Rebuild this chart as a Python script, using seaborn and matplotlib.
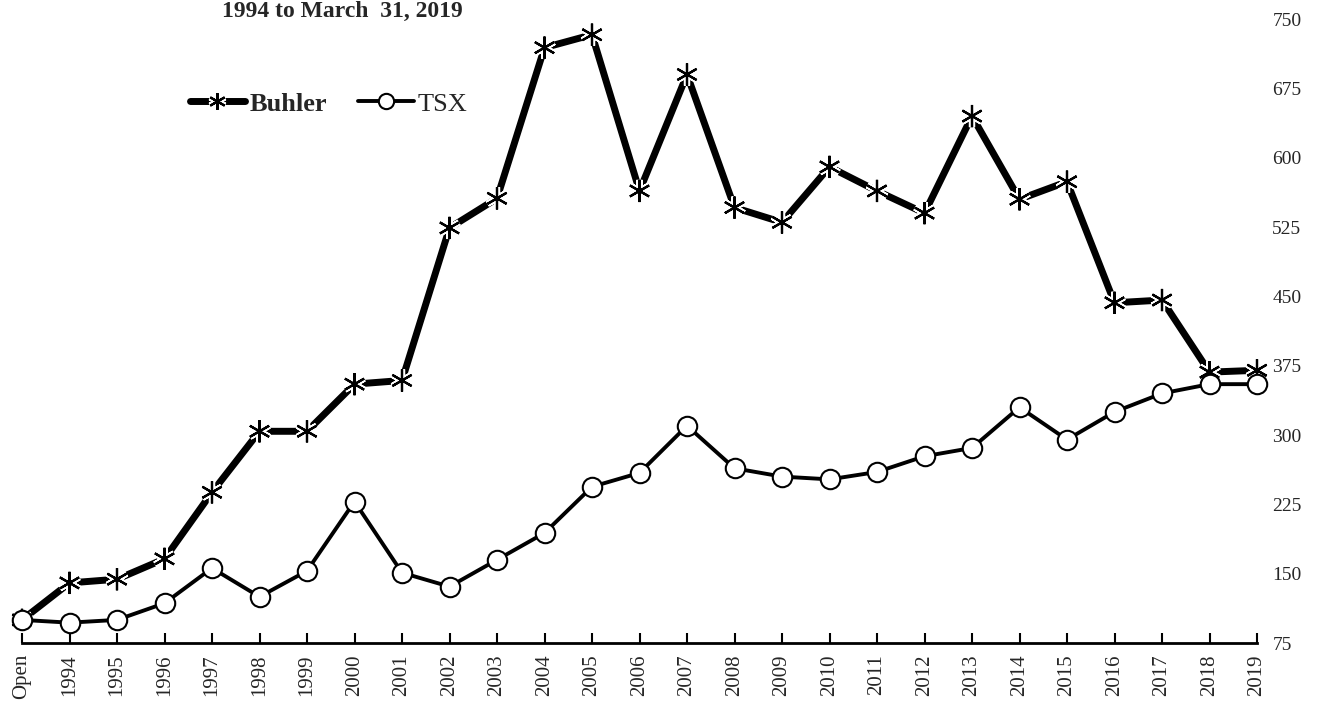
import pandas as pd
import matplotlib
matplotlib.use("Agg")
import matplotlib.pyplot as plt
import matplotlib.patheffects as pe
from matplotlib.lines import Line2D
import seaborn as sns

# ─── Data ───
periods = ["Open"] + [str(y) for y in range(1994, 2020)]
buhler = [100, 140, 144, 166, 238, 304, 304, 355, 359, 524, 556, 719, 733,
          564, 690, 546, 530, 590, 564, 540, 645, 555, 574, 443, 446, 368, 370]
tsx = [100, 97, 100, 118, 156, 125, 153, 228, 151, 136, 165, 194, 244,
       259, 310, 264, 255, 252, 260, 277, 286, 330, 295, 325, 345, 355, 355]
y_ticks = [75, 150, 225, 300, 375, 450, 525, 600, 675, 750]

df = pd.DataFrame({"pos": range(len(periods)), "period": periods,
                   "Buhler": buhler, "TSX": tsx})

sns.set_style("white")
plt.rcParams["font.family"] = ["Liberation Serif", "DejaVu Serif"]

STAR = (6, 2, 0)
halo = [pe.withStroke(linewidth=4.5, foreground="white")]

fig = plt.figure(figsize=(13.19, 7.04), dpi=100)
ax = fig.add_axes([22 / 1319, 1 - 643 / 704, (1257 - 22) / 1319, (643 - 19) / 704])

# Buhler: thick line, then asterisk markers with a white halo on top
sns.lineplot(data=df, x="pos", y="Buhler", ax=ax, color="black", lw=5,
             clip_on=False, zorder=2, legend=False)
sns.lineplot(data=df, x="pos", y="Buhler", ax=ax, color="black",
             linestyle="none", marker=STAR, ms=16, mec="black", mew=1.6,
             clip_on=False, zorder=3, legend=False, path_effects=halo)

# TSX: thinner line, open circles
sns.lineplot(data=df, x="pos", y="TSX", ax=ax, color="black", lw=2.8,
             marker="o", ms=14, mfc="white", mec="black", mew=1.5,
             clip_on=False, zorder=4, legend=False)

ax.set_xlim(0, len(periods) - 1)
ax.set_ylim(75, 750)
ax.set_xticks(df["pos"])
ax.set_xticklabels(periods, rotation=90, fontsize=15)
ax.set_yticks(y_ticks)
ax.set_yticklabels([str(t) for t in y_ticks], fontsize=14)
ax.yaxis.tick_right()
ax.tick_params(axis="y", length=0, pad=11)
ax.tick_params(axis="x", direction="in", length=7, width=1.5, color="black",
               pad=8, bottom=True)
ax.set_xlabel("")
ax.set_ylabel("")

for side in ["top", "left", "right"]:
    ax.spines[side].set_visible(False)
ax.spines["bottom"].set_color("black")
ax.spines["bottom"].set_linewidth(2)

fig.text(222 / 1319, 1 - 11 / 704, "1994 to March  31, 2019", fontsize=17,
         fontweight="bold", ha="left", va="center")

handles = [
    Line2D([], [], color="black", lw=5, marker=STAR, ms=12, mec="black", mew=1.6,
           path_effects=halo),
    Line2D([], [], color="black", lw=2.8, marker="o", ms=11, mfc="white",
           mec="black", mew=1.5),
]
leg = fig.legend(handles, ["Buhler", "TSX"], loc="center left",
                 bbox_to_anchor=(166 / 1319, 1 - 104 / 704), ncol=2, frameon=False,
                 fontsize=19, handlelength=2.1, handletextpad=0.15,
                 columnspacing=1.2)
leg.get_texts()[0].set_fontweight("bold")

fig.savefig("out.png", dpi=100)
